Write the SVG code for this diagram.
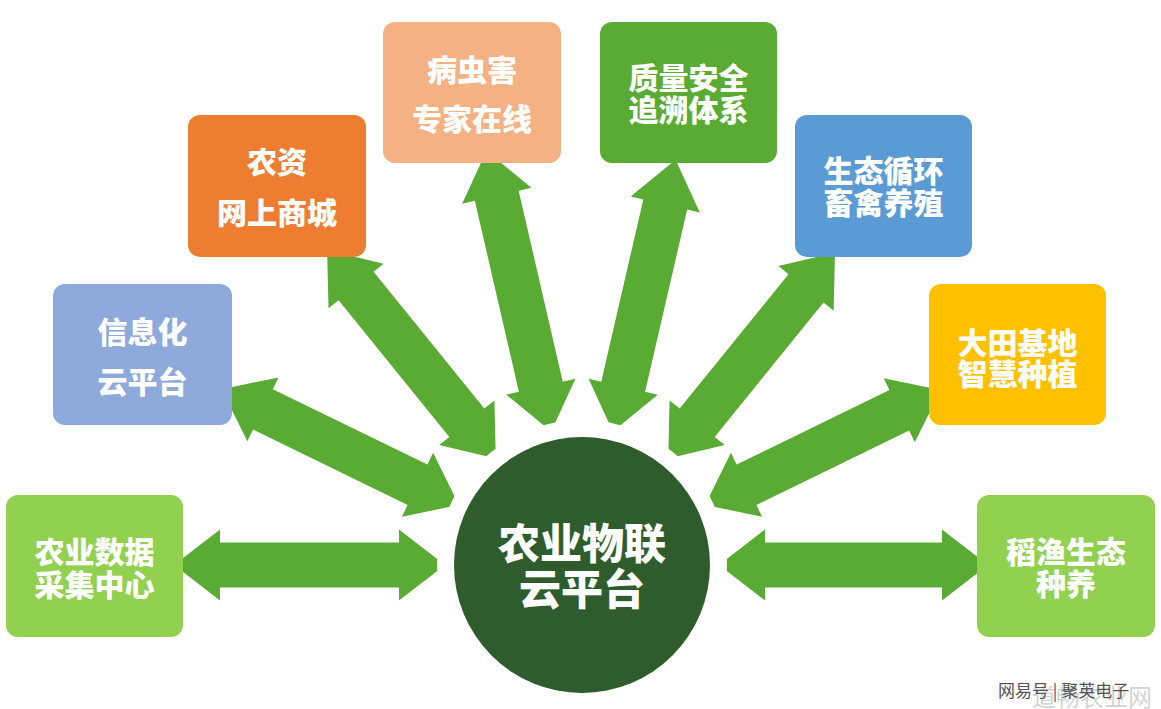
<svg xmlns="http://www.w3.org/2000/svg" width="1161" height="709" viewBox="0 0 1161 709">
<style>
.arrow{fill:#5aab33}
.box{stroke:none}
.lbl{font-family:"Noto Sans CJK SC","Noto Sans",sans-serif;font-weight:900;fill:#ffffff;text-anchor:middle}
.t30{font-size:30px}
.t42{font-size:42px}
.wm{font-family:"Noto Sans CJK SC","Noto Sans",sans-serif}
</style>
<rect x="0" y="0" width="1161" height="709" fill="#ffffff"/>
<g id="connectors">
<path class="arrow" transform="translate(582,565) rotate(180)" d="M137,0 L183,-35.5 L183,-22.5 L362,-22.5 L362,-35.5 L408,0 L362,35.5 L362,22.5 L183,22.5 L183,35.5 Z"/>
<path class="arrow" transform="translate(582,565) rotate(206)" d="M137,0 L183,-35.5 L183,-22.5 L355,-22.5 L355,-35.5 L401,0 L355,35.5 L355,22.5 L183,22.5 L183,35.5 Z"/>
<path class="arrow" transform="translate(582,565) rotate(231)" d="M137,0 L183,-35.5 L183,-22.5 L359,-22.5 L359,-35.5 L405,0 L359,35.5 L359,22.5 L183,22.5 L183,35.5 Z"/>
<path class="arrow" transform="translate(582,565) rotate(257)" d="M137,0 L183,-35.5 L183,-22.5 L379,-22.5 L379,-35.5 L425,0 L379,35.5 L379,22.5 L183,22.5 L183,35.5 Z"/>
<path class="arrow" transform="translate(582,565) rotate(283)" d="M137,0 L183,-35.5 L183,-22.5 L370,-22.5 L370,-35.5 L416,0 L370,35.5 L370,22.5 L183,22.5 L183,35.5 Z"/>
<path class="arrow" transform="translate(582,565) rotate(309)" d="M137,0 L183,-35.5 L183,-22.5 L356,-22.5 L356,-35.5 L402,0 L356,35.5 L356,22.5 L183,22.5 L183,35.5 Z"/>
<path class="arrow" transform="translate(582,565) rotate(334)" d="M137,0 L183,-35.5 L183,-22.5 L353,-22.5 L353,-35.5 L399,0 L353,35.5 L353,22.5 L183,22.5 L183,35.5 Z"/>
<path class="arrow" transform="translate(582,565) rotate(0)" d="M137,0 L183,-35.5 L183,-22.5 L360,-22.5 L360,-35.5 L406,0 L360,35.5 L360,22.5 L183,22.5 L183,35.5 Z"/>
</g>
<g id="node-data">
<rect class="box" x="6" y="495" width="177" height="142" rx="12" fill="#92d050"/>
<text class="lbl t30" x="94.5" y="563">农业数据</text>
<text class="lbl t30" x="94.5" y="596">采集中心</text>
</g>
<g id="node-info">
<rect class="box" x="53" y="284" width="179" height="141" rx="12" fill="#8eaadb"/>
<text class="lbl t30" x="142.5" y="343">信息化</text>
<text class="lbl t30" x="142.5" y="393">云平台</text>
</g>
<g id="node-shop">
<rect class="box" x="188" y="115" width="178" height="142" rx="12" fill="#ed7d31"/>
<text class="lbl t30" x="277" y="173">农资</text>
<text class="lbl t30" x="277" y="224">网上商城</text>
</g>
<g id="node-pest">
<rect class="box" x="383" y="22" width="178" height="141" rx="12" fill="#f4b183"/>
<text class="lbl t30" x="472" y="81">病虫害</text>
<text class="lbl t30" x="472" y="130">专家在线</text>
</g>
<g id="node-trace">
<rect class="box" x="600" y="22" width="177" height="141" rx="12" fill="#5aab33"/>
<text class="lbl t30" x="688.5" y="89">质量安全</text>
<text class="lbl t30" x="688.5" y="121">追溯体系</text>
</g>
<g id="node-livestock">
<rect class="box" x="795" y="115" width="177" height="142" rx="12" fill="#5b9bd5"/>
<text class="lbl t30" x="883.5" y="182">生态循环</text>
<text class="lbl t30" x="883.5" y="214">畜禽养殖</text>
</g>
<g id="node-field">
<rect class="box" x="929" y="284" width="177" height="141" rx="12" fill="#ffc000"/>
<text class="lbl t30" x="1017.5" y="354">大田基地</text>
<text class="lbl t30" x="1017.5" y="385">智慧种植</text>
</g>
<g id="node-ricefish">
<rect class="box" x="977" y="495" width="178" height="142" rx="12" fill="#92d050"/>
<text class="lbl t30" x="1066" y="563">稻渔生态</text>
<text class="lbl t30" x="1066" y="595">种养</text>
</g>
<g id="node-center">
<circle cx="582" cy="565" r="145" fill="#ffffff"/>
<circle cx="582" cy="565" r="128" fill="#2f5c2c"/>
<text class="lbl t42" x="582" y="559">农业物联</text>
<text class="lbl t42" x="582" y="605">云平台</text>
</g>
<g id="watermark">
<text class="wm" x="1092" y="706" font-size="24" fill="#999999" fill-opacity="0.45" text-anchor="middle">道畅农业网</text>
<text class="wm" x="998" y="697" font-size="17" fill="#555555">网易号 | 聚英电子</text>
</g>
</svg>
